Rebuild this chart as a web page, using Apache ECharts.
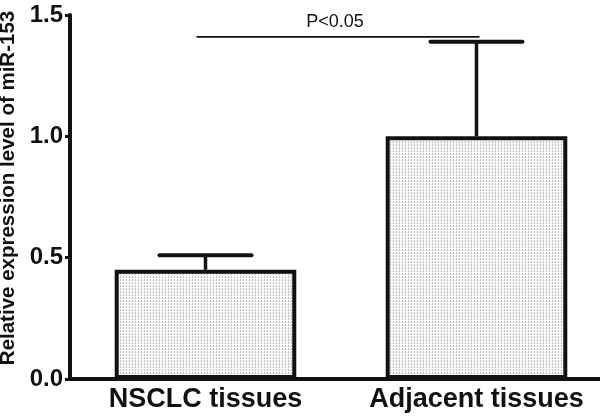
<!DOCTYPE html>
<html><head><meta charset="utf-8">
<script src="https://cdn.jsdelivr.net/npm/echarts@6/dist/echarts.min.js"></script>
<style>html,body{margin:0;padding:0;background:#fff}#c{width:600px;height:419px}</style>
</head><body><div id="c"></div>
<script>
const categories = ['NSCLC tissues', 'Adjacent tissues'];
const means = [0.45, 1.0];
const errUpper = [0.51, 1.39];
const yTicks = [0.0, 0.5, 1.0, 1.5];
const sigLevel = 1.41;
const sigText = 'P<0.05';
const yName = 'Relative expression level of miR-153';

// dotted fill pattern
const pc = document.createElement('canvas');
pc.width = 3; pc.height = 3;
const px = pc.getContext('2d');
px.fillStyle = '#ffffff'; px.fillRect(0,0,3,3);
px.fillStyle = '#bdbdbd'; px.fillRect(0,0,1,2);
px.fillStyle = '#e6e6e6'; px.fillRect(2,1,1,1);

const chart = echarts.init(document.getElementById('c'));
const F = 'Arial, "Liberation Sans", sans-serif';
chart.setOption({
  animation: false,
  grid: { left: 70, right: -12, top: 15, bottom: 40, outerBoundsMode: 'none', containLabel: false },
  xAxis: {
    type: 'category', data: categories,
    axisLine: { lineStyle: { color: '#111', width: 4 } },
    axisTick: { alignWithLabel: true, length: 5, lineStyle: { color: '#111', width: 3 } },
    axisLabel: { fontFamily: F, fontWeight: 'bold', fontSize: 27, color: '#111', margin: 7,
      interval: 0, hideOverlap: false, showMinLabel: true, showMaxLabel: true }
  },
  yAxis: {
    type: 'value', min: yTicks[0], max: yTicks[yTicks.length-1], interval: 0.5,
    name: yName, nameLocation: 'middle', nameGap: 36,
    nameTextStyle: { fontFamily: F, fontWeight: 'bold', fontSize: 20.5, color: '#111', padding: [0, 0, 0, 18] },
    axisLine: { show: true, lineStyle: { color: '#111', width: 4 } },
    axisTick: { show: true, length: 5, lineStyle: { color: '#111', width: 3 } },
    splitLine: { show: false },
    axisLabel: { fontFamily: F, fontWeight: 'bold', fontSize: 24, color: '#111', margin: 7,
      formatter: v => v.toFixed(1) }
  },
  series: [
    {
      type: 'bar', data: means, barWidth: '67%', z: 2,
      itemStyle: { color: { image: pc, repeat: 'repeat' }, borderColor: '#111', borderWidth: 4 }
    },
    {
      type: 'custom', z: 1,
      data: means.map((m, i) => [i, m, errUpper[i]]),
      renderItem: (params, api) => {
        const top = api.coord([api.value(0), api.value(2)]);
        const base = api.coord([api.value(0), api.value(1)]);
        const hw = 46;
        return { type: 'group', children: [
          { type: 'line', shape: { x1: top[0], y1: top[1], x2: base[0], y2: base[1] },
            style: { stroke: '#111', lineWidth: 3.5 } },
          { type: 'line', shape: { x1: top[0]-hw, y1: top[1], x2: top[0]+hw, y2: top[1] },
            style: { stroke: '#111', lineWidth: 4, lineCap: 'round' } }
        ]};
      }
    },
    {
      type: 'custom', z: 3,
      data: [[0, 1, sigLevel]],
      renderItem: (params, api) => {
        const a = api.coord([api.value(0), api.value(2)]);
        const b = api.coord([api.value(1), api.value(2)]);
        return { type: 'group', children: [
          { type: 'line', shape: { x1: a[0]-9, y1: a[1], x2: b[0]+3, y2: b[1] },
            style: { stroke: '#111', lineWidth: 1.6 } },
          { type: 'text', x: (a[0]+b[0])/2 - 6, y: a[1] - 15,
            style: { text: sigText, fontFamily: F, fontSize: 18, fill: '#111',
              textAlign: 'center', textVerticalAlign: 'middle' } }
        ]};
      }
    }
  ]
});
</script></body></html>
